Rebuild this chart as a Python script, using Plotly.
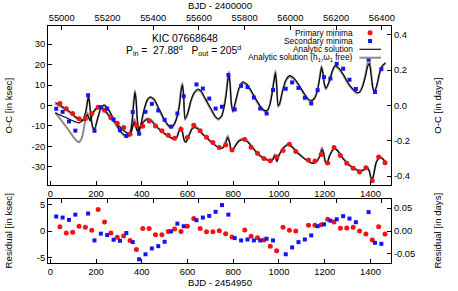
import plotly.graph_objects as go

# ---------------- data (days = BJD - 2454950, values in ksec) ----------------
red_t = [42.0, 69.9, 97.8, 125.6, 153.5, 181.4, 209.3, 237.2, 265.0, 292.9, 320.8, 348.7,
         376.6, 404.4, 432.3, 460.2, 488.1, 516.0, 543.8, 571.7, 599.6, 627.5, 655.4, 683.2,
         711.1, 739.0, 766.9, 794.8, 850.5, 878.4, 906.3, 934.2, 962.0, 989.9, 1017.8, 1045.7,
         1073.6, 1129.3, 1157.2, 1185.1, 1213.0, 1240.8, 1268.7, 1296.6, 1324.5, 1352.4, 1380.2,
         1408.1, 1436.0, 1463.9]
red_oc = [1.0, -1.6, -3.9, -6.5, -6.3, -3.9, -0.8, -2.3, -6.0, -8.7, -10.8, -14.1, -9.4, -10.1,
          -7.6, -10.0, -12.4, -14.6, -16.0, -11.6, -15.7, -9.7, -12.4, -15.5, -18.1, -20.5, -19.3,
          -21.8, -16.6, -20.4, -23.4, -25.9, -27.0, -25.1, -22.0, -19.0, -22.5, -26.7, -27.2, -24.0,
          -28.1, -20.6, -24.5, -28.3, -30.7, -32.5, -30.5, -36.8, -25.2, -28.0]
red_res = [0.82, -0.38, -0.25, 0.9, 0.7, 0.13, 4.07, 1.72, -0.38, -1.2, -0.95, -1.78, -3.5, 0.45,
           0.45, -0.7, -0.7, -0.07, 0.38, -0.07, 0.9, 2.35, 0.45, -0.12, -0.12, 0.06, -0.5, -1.15,
           0.2, -1.0, -1.27, -1.7, -2.86, -3.75, 0.7, 0.13, 0.0, 1.08, 1.08, 1.2, 2.23, 1.72, 0.51,
           0.57, 0.7, 0.0, -0.57, -1.7, 0.82, -0.57]

blue_t = [26.0, 53.9, 81.8, 109.6, 165.4, 193.3, 221.2, 249.0, 276.9, 304.8, 332.7, 360.6, 388.4,
          416.3, 444.2, 472.1, 500.0, 527.8, 555.7, 583.6, 639.4, 667.2, 695.1, 723.0, 750.9,
          778.8, 806.6, 834.5, 862.4, 890.3, 918.2, 946.0, 973.9, 1029.7, 1057.6, 1085.4, 1113.3,
          1141.2, 1169.1, 1197.0, 1224.8, 1252.7, 1280.6, 1308.5, 1336.4, 1392.1, 1420.0, 1447.9]
blue_oc = [-1.6, -3.1, -7.8, -12.3, 5.0, -12.4, -0.8, -1.5, -6.8, -12.1, -14.9, -3.2, -13.8, -3.1,
           0.8, -2.4, -7.0, -10.3, -3.9, 4.5, 10.3, 8.3, 3.4, -1.5, -0.6, 14.9, -1.9, 9.6, 9.0, 3.9,
           -1.5, -3.9, 7.6, 8.2, 11.3, 8.6, 3.8, 1.0, 7.5, 13.9, 13.2, 20.4, 18.0, 12.6, 8.1, 22.6,
           6.6, 17.8]
blue_res = [2.73, 2.54, 2.1, 3.1, 3.3, -1.78, -0.5, -0.76, -1.65, -1.84, -0.38, -2.1, -5.34, -4.4,
            -3.3, -2.86, -2.03, -0.07, 1.4, 0.9, 2.04, 2.54, 2.86, 3.63, 4.9, 3.1, -1.34, -1.78,
            -1.6, -1.78, -1.78, -1.46, -1.78, -4.4, -3.1, -2.1, -1.6, -0.83, 0.9, 1.27, 1.97, 2.23,
            2.8, 2.35, 1.66, 3.57, -2.23, -2.42]

# analytic solution, secondary minima (black)
sec_black = [(22, -3.5), (50, -5), (80, -6.5), (110, -8), (125, -8.5), (140, -7.5), (152, -4),
             (160, 0), (166, 4), (171, 2), (178, -6), (186, -10.5), (194, -11.5), (205, -7),
             (220, -1.5), (235, 0.3), (250, -1), (270, -5), (295, -10.5), (320, -14), (338, -15),
             (350, -13), (358, -8), (364, 0), (370, 6.5), (375, 3), (380, -6), (387, -13),
             (395, -10), (410, -2), (425, 3), (438, 4.3), (455, 3), (475, -1.5), (500, -7),
             (520, -10), (532, -10.5), (545, -8.5), (556, -5), (565, 0), (572, 7), (578, 10),
             (583, 5), (589, -6.5), (600, -4), (615, 2.5), (630, 6.5), (645, 8.1), (660, 7),
             (680, 3), (700, -1), (720, -5), (735, -6.5), (750, -5), (762, 0), (770, 6), (777, 13),
             (781, 15.5), (786, 11), (792, 1), (799, -2.8), (810, 2), (825, 8.5), (842, 11.6),
             (860, 10.5), (880, 7), (900, 3), (920, -0.5), (940, -2.5), (952, -2), (962, 1),
             (972, 7), (980, 13), (985, 16), (990, 10), (996, 0), (1003, 1), (1015, 7),
             (1030, 12.5), (1046, 14.6), (1065, 13.5), (1085, 10.5), (1110, 6), (1130, 3),
             (1142, 2.5), (1155, 3.5), (1168, 7), (1178, 13), (1186, 18.5), (1192, 16), (1198, 11),
             (1206, 8.5), (1220, 12), (1235, 17.5), (1245, 19.5), (1260, 18.5), (1280, 15.5),
             (1300, 11.5), (1320, 8.5), (1340, 6.5), (1352, 6.5), (1365, 9), (1378, 14),
             (1388, 19), (1395, 20.5), (1402, 16), (1410, 9), (1418, 6.8), (1428, 10), (1440, 16),
             (1452, 19.5), (1466, 21)]
# analytic solution (h1, w1 free), secondary minima (gray)
sec_gray = [(22, -3.5), (50, -7.5), (80, -12), (105, -16), (125, -18), (138, -16), (150, -9),
            (158, -2), (166, 5.5), (171, 2), (178, -6), (186, -11), (194, -12), (205, -7.5),
            (220, -2), (235, -0.3), (250, -1.5), (270, -5.5), (295, -11), (320, -14.5), (338, -15.3),
            (350, -13), (358, -7), (364, 1), (370, 7.5), (375, 3), (380, -6.5), (387, -13.5),
            (395, -10.5), (410, -2.5), (425, 2.5), (438, 3.8), (455, 2.5), (475, -2), (500, -7.5),
            (520, -10.5), (532, -10.8), (545, -8.5), (556, -4.5), (565, 1), (572, 8), (578, 11),
            (583, 5), (589, -7), (600, -4.5), (615, 2), (630, 6), (645, 7.5), (660, 6.5), (680, 2.5),
            (700, -1.5), (720, -5.5), (735, -7), (750, -5), (762, 1), (770, 7), (777, 14),
            (781, 16.5), (786, 11), (792, 0.5), (799, -3.3), (810, 1.5), (825, 8), (842, 11),
            (860, 10), (880, 6.5), (900, 2.5), (920, -1), (940, -3), (952, -2), (962, 1.5),
            (972, 8), (980, 14), (985, 17), (990, 10), (996, -0.5), (1003, 0.5), (1015, 6.5),
            (1030, 12), (1046, 14), (1065, 13), (1085, 10), (1110, 5.5), (1130, 2.5), (1142, 2),
            (1155, 3.5), (1168, 7.5), (1178, 14), (1186, 19.5), (1192, 16), (1198, 10.5),
            (1206, 8), (1220, 11.5), (1235, 17), (1245, 19), (1260, 18), (1280, 15), (1300, 11),
            (1320, 8), (1340, 6), (1352, 6.5), (1365, 9.5), (1378, 15), (1388, 21), (1395, 23),
            (1402, 17), (1410, 9), (1418, 6.3), (1428, 9.5), (1440, 15.5), (1452, 19), (1466, 20.5)]
# analytic solution, primary minima (black)
pri_black = [(22, 1.5), (40, 0.3), (60, -1), (85, -3), (110, -5.5), (130, -7), (145, -7.3),
             (155, -6), (162, -4.5), (168, -6), (174, -7.5), (182, -5), (195, -2), (210, -0.8),
             (222, -0.7), (240, -2.5), (265, -6), (290, -9), (315, -11.5), (335, -13.3),
             (352, -13.5), (362, -10), (368, -8), (374, -10.5), (381, -12.5), (390, -11),
             (405, -8.5), (420, -7), (430, -6.8), (445, -8), (465, -10.5), (490, -13), (515, -15),
             (540, -16.4), (552, -16), (562, -13), (570, -11.3), (578, -13), (586, -17),
             (594, -17.8), (605, -15), (620, -11.5), (632, -10.8), (645, -11.5), (665, -14),
             (690, -16.5), (715, -19), (740, -20.8), (755, -20.8), (767, -18.5), (776, -15.7),
             (784, -18), (790, -21.5), (796, -22), (808, -20), (825, -17.5), (848, -16.5),
             (865, -18), (890, -21.5), (915, -24.5), (945, -26.5), (965, -27), (975, -26.2),
             (981, -24.5), (986, -25.8), (991, -27.2), (1000, -24.5), (1018, -21), (1038, -19.4),
             (1055, -20.2), (1080, -23), (1105, -25.5), (1130, -27.5), (1148, -28.3),
             (1165, -27.5), (1178, -25), (1188, -21.5), (1195, -23), (1202, -27), (1210, -28.2),
             (1222, -24.5), (1240, -21.4), (1255, -22), (1280, -26), (1305, -29), (1330, -31),
             (1355, -32), (1372, -31.5), (1385, -30.5), (1395, -32), (1402, -35), (1408, -36.4),
             (1414, -34), (1425, -28), (1440, -25.4), (1452, -26), (1466, -27.7)]
# analytic solution (h1, w1 free), primary minima (gray)
pri_gray = [(22, 0.8), (40, -0.3), (60, -1.5), (85, -3.5), (110, -5.8), (130, -7), (145, -7),
            (155, -5.5), (162, -3.5), (168, -5.5), (174, -7.5), (182, -5), (195, -2.5), (210, -1.3),
            (222, -1.2), (240, -3), (265, -6.3), (290, -9.3), (315, -11.8), (335, -13.5),
            (352, -13.3), (362, -9), (368, -6.5), (374, -10), (381, -12.8), (390, -11),
            (405, -8.2), (420, -6.5), (430, -6.3), (445, -7.5), (465, -10.2), (490, -12.8),
            (515, -14.8), (540, -16.2), (552, -15.6), (562, -12.5), (570, -10.5), (578, -13),
            (586, -17.3), (594, -18), (605, -15), (620, -11), (632, -10.2), (645, -11), (665, -13.7),
            (690, -16.3), (715, -18.8), (740, -20.6), (755, -20.4), (767, -17.5), (776, -14.8),
            (784, -18), (790, -21.8), (796, -22.2), (808, -19.8), (825, -17), (848, -16),
            (865, -17.7), (890, -21.2), (915, -24.2), (945, -26.3), (965, -26.8), (975, -25.8),
            (981, -23.8), (986, -25.8), (991, -27.5), (1000, -24.5), (1018, -20.6), (1038, -19),
            (1055, -19.8), (1080, -22.7), (1105, -25.3), (1130, -27.3), (1148, -28.1),
            (1165, -27.2), (1178, -24.5), (1188, -20.5), (1195, -23), (1202, -27.5), (1210, -28.5),
            (1222, -24.3), (1240, -21), (1255, -21.7), (1280, -25.7), (1305, -28.7), (1330, -30.8),
            (1355, -31.8), (1372, -31.3), (1385, -30), (1395, -32), (1402, -35.5), (1408, -37),
            (1414, -34), (1425, -27.8), (1440, -25), (1452, -25.8), (1466, -27.5)]

xtick_vals = [0, 200, 400, 600, 800, 1000, 1200, 1400]
xtick_text = ["0", "200", "400", "600", "800", "1000", "1200", "1400"]
x2tick_vals = [55000, 55200, 55400, 55600, 55800, 56000, 56200, 56400]
x2tick_text = ["55000", "55200", "55400", "55600", "55800", "56000", "56200", "56400"]
y_main_ticks = [-30, -20, -10, 0, 10, 20, 30]
y_main_text = ["-30", "-20", "-10", "0", "10", "20", "30"]
y2_main_ticks = [-0.4, -0.2, 0.0, 0.2, 0.4]
y2_main_text = ["-0.4", "-0.2", "0.0", "0.2", "0.4"]
y_res_ticks = [-5, 0, 5]
y_res_text = ["-5", "0", "5"]
y2_res_ticks = [-0.05, 0.0, 0.05]
y2_res_text = ["-0.05", "0.00", "0.05"]

# ---------------- figure ----------------
FONT = "Liberation Sans"
RED = "#f21414"
BLUE = "#1414f0"
GRAY = "#8c8c8c"

fig = go.Figure()


def curve(pairs, color, width):
    return go.Scatter(x=[p[0] for p in pairs], y=[p[1] for p in pairs], mode="lines",
                      line=dict(color=color, width=width, shape="spline", smoothing=0.5),
                      xaxis="x", yaxis="y", showlegend=False, hoverinfo="skip")


fig.add_trace(curve(sec_gray, GRAY, 2.0))
fig.add_trace(curve(pri_gray, GRAY, 2.0))
fig.add_trace(curve(sec_black, "black", 1.1))
fig.add_trace(curve(pri_black, "black", 1.1))

fig.add_trace(go.Scatter(x=red_t, y=red_oc, mode="markers", xaxis="x", yaxis="y",
                         marker=dict(symbol="circle", size=5, color=RED), showlegend=False))
fig.add_trace(go.Scatter(x=blue_t, y=blue_oc, mode="markers", xaxis="x", yaxis="y",
                         marker=dict(symbol="square", size=4, color=BLUE), showlegend=False))

fig.add_trace(go.Scatter(x=red_t, y=red_res, mode="markers", xaxis="x3", yaxis="y3",
                         marker=dict(symbol="circle", size=5, color=RED), showlegend=False))
fig.add_trace(go.Scatter(x=blue_t, y=blue_res, mode="markers", xaxis="x3", yaxis="y3",
                         marker=dict(symbol="square", size=4, color=BLUE), showlegend=False))

# empty traces so that the secondary (top / right) axes are drawn
fig.add_trace(go.Scatter(x=[], y=[], xaxis="x2", yaxis="y2", showlegend=False))
fig.add_trace(go.Scatter(x=[], y=[], xaxis="x4", yaxis="y4", showlegend=False))

tickfont = dict(family=FONT, size=9.4, color="black")
common = dict(ticks="inside", ticklen=4, tickwidth=1, tickcolor="black", showline=True,
              linecolor="black", linewidth=1, showgrid=False, zeroline=False, tickfont=tickfont)

XR = [-10, 1490]
X2R = [54940, 56440]
main_dom = [0.3291, 1.0]
res_dom = [0.0, 0.27]

fig.update_layout(
    width=458, height=291,
    margin=dict(l=48, r=67, t=26, b=28),
    paper_bgcolor="white", plot_bgcolor="white",
    font=dict(family=FONT, size=9.4, color="black"),
    xaxis=dict(domain=[0, 1], anchor="y", range=XR, tickvals=xtick_vals, ticktext=xtick_text,
               **common),
    xaxis2=dict(overlaying="x", side="top", anchor="y", range=X2R, tickvals=x2tick_vals,
                ticktext=x2tick_text, **common),
    yaxis=dict(domain=main_dom, anchor="x", range=[-38.88, 38.88], tickvals=y_main_ticks,
               ticktext=y_main_text, **common),
    yaxis2=dict(overlaying="y", side="right", anchor="x", range=[-0.45, 0.45],
                tickvals=y2_main_ticks, ticktext=y2_main_text, **common),
    xaxis3=dict(domain=[0, 1], anchor="y3", range=XR, tickvals=xtick_vals, ticktext=xtick_text,
                **common),
    xaxis4=dict(overlaying="x3", side="top", anchor="y3", range=X2R, tickvals=x2tick_vals,
                showticklabels=False, **common),
    yaxis3=dict(domain=res_dom, anchor="x3", range=[-6.048, 6.048], tickvals=y_res_ticks,
                ticktext=y_res_text, **common),
    yaxis4=dict(overlaying="y3", side="right", anchor="x3", range=[-0.07, 0.07],
                tickvals=y2_res_ticks, ticktext=y2_res_text, **common),
)


# ---------------- text ----------------
def ann(text, x, y, size=9.4, angle=0, xanchor="center"):
    fig.add_annotation(text=text, x=x, y=y, xref="paper", yref="paper", showarrow=False,
                       textangle=angle, xanchor=xanchor, yanchor="middle", borderpad=0,
                       font=dict(family=FONT, size=size, color="black"))


ann("BJD - 2400000", 0.5, 1.0844, size=9.6)
ann("BJD - 2454950", 0.5, -0.084, size=9.6)
ann("O-C [in ksec]", -0.1155, 0.6624, size=9.6, angle=-90)
ann("Residual [in ksec]", -0.1155, 0.135, size=9.6, angle=-90)
ann("O-C [in days]", 1.133, 0.6624, size=9.6, angle=-90)
ann("Residual [in days]", 1.133, 0.135, size=9.6, angle=-90)
ann("KIC 07668648", 0.4, 0.948, size=10.3)
ann("P<sub>in</sub> =  27.88<sup>d</sup>   P<sub>out</sub> = 205<sup>d</sup>", 0.395, 0.895, size=10.3)

# legend (gnuplot style: text right aligned, sample on the right)
leg_x_text = 0.8914
leg_x_mark = 0.939
leg_items = [("Primary minima", 0.9717), ("Secondary minima", 0.9367),
             ("Analytic solution", 0.9017),
             ("Analytic solution (h<sub>1</sub>,ω<sub>1</sub> free)", 0.8662)]
for txt, yy in leg_items:
    ann(txt, leg_x_text, yy, size=8.3, xanchor="right")

fig.add_shape(type="circle", xref="paper", yref="paper", xsizemode="pixel", ysizemode="pixel",
              xanchor=leg_x_mark, yanchor=leg_items[0][1], x0=-2.5, x1=2.5, y0=-2.5, y1=2.5,
              fillcolor=RED, line=dict(width=0))
fig.add_shape(type="rect", xref="paper", yref="paper", xsizemode="pixel", ysizemode="pixel",
              xanchor=leg_x_mark, yanchor=leg_items[1][1], x0=-2, x1=2, y0=-2, y1=2,
              fillcolor=BLUE, line=dict(width=0))
fig.add_shape(type="line", xref="paper", yref="paper", x0=0.908, x1=0.971,
              y0=leg_items[2][1], y1=leg_items[2][1], line=dict(color="black", width=1.1))
fig.add_shape(type="line", xref="paper", yref="paper", x0=0.908, x1=0.971,
              y0=leg_items[3][1], y1=leg_items[3][1], line=dict(color=GRAY, width=2.0))

fig.write_html("out.html", config={"displayModeBar": False},
               post_script="document.body.style.margin='0px';")
